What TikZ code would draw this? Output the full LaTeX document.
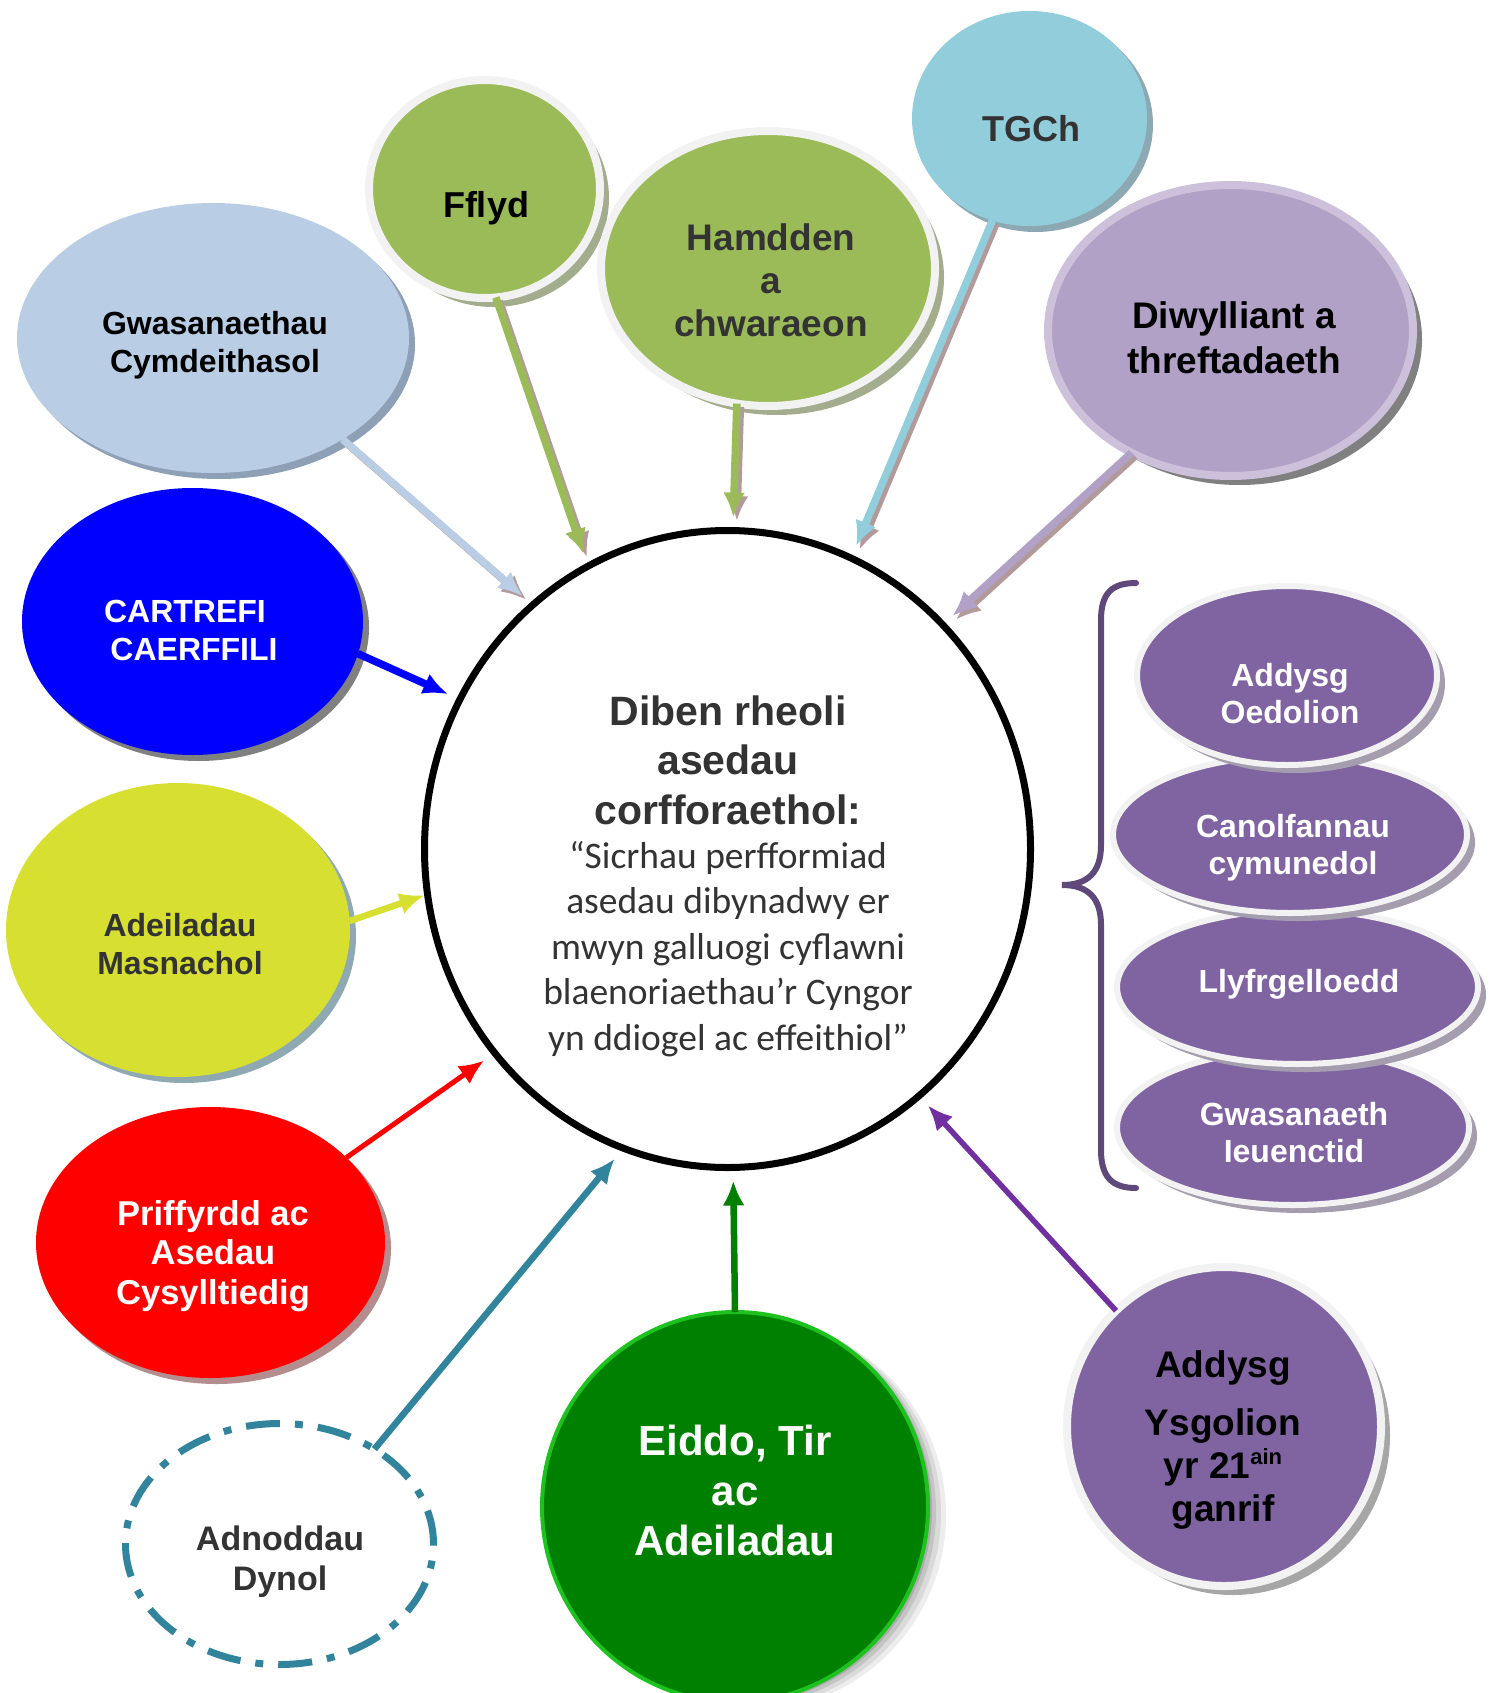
\documentclass[tikz,border=0pt]{standalone}
\usepackage{fontspec}
\setmainfont{Liberation Sans}
\newfontfamily\calib{Carlito}
\usetikzlibrary{shapes.geometric,arrows.meta,shadows}

\definecolor{gwasC}{HTML}{B9CDE5}
\definecolor{gwasS}{HTML}{8EA0B6}
\definecolor{greenC}{HTML}{9BBB59}
\definecolor{greenS}{HTML}{A3AD8E}
\definecolor{ringC}{HTML}{F2F2F2}
\definecolor{tgchC}{HTML}{92CDDC}
\definecolor{tgchS}{HTML}{8CA9B3}
\definecolor{diwC}{HTML}{B2A1C7}
\definecolor{diwR}{HTML}{CCC0DA}
\definecolor{greyS}{HTML}{808080}
\definecolor{blueC}{HTML}{0000FF}
\definecolor{adeC}{HTML}{D7DF31}
\definecolor{adeS}{HTML}{8FA9B2}
\definecolor{redC}{HTML}{FF0000}
\definecolor{redS}{HTML}{B48E8E}
\definecolor{tealC}{HTML}{31849B}
\definecolor{eidC}{HTML}{008000}
\definecolor{eidR}{HTML}{1EC21E}
\definecolor{purC}{HTML}{8064A2}
\definecolor{purS}{HTML}{A39DAD}
\definecolor{arrP}{HTML}{7030A0}
\definecolor{braceC}{HTML}{5F497A}
\definecolor{dgrey}{HTML}{333333}
\definecolor{arrS}{HTML}{B39A9A}

\tikzset{
  bub/.style={ellipse, inner sep=0pt, outer sep=0pt},
  sh/.style 2 args={drop shadow={shadow xshift=#1, shadow yshift=-#1, fill=#2, opacity=1}},
  ringed/.style={draw=ringC, line width=8pt},
  txt/.style={align=center, inner sep=0pt},
  tf/.style 2 args={font=\bfseries\fontsize{#1}{#2}\selectfont},
  ar/.style={-{Latex[length=25pt,width=22pt]}, line width=#1},
  ar/.default=7.5pt,
  ashd/.style={color=arrS, transform canvas={xshift=3.5pt,yshift=-3.5pt}},
}

\begin{document}
\begin{tikzpicture}[x=1pt,y=-1pt]
\useasboundingbox (0,0) rectangle (1490,1693);

% ---------- bubbles ----------
\node[bub, minimum width=392pt, minimum height=270pt, fill=gwasC, sh={6pt}{gwasS}] (gwas) at (213,338) {};
\node[bub, minimum width=231pt, minimum height=218pt, fill=greenC, ringed, sh={9pt}{greenS}] (fflyd) at (484.5,189) {};
\node[bub, minimum width=334pt, minimum height=275pt, fill=greenC, ringed, sh={9pt}{greenS}] (hamd) at (768,268.5) {};
\node[bub, minimum width=365pt, minimum height=291pt, fill=diwC, draw=diwR, line width=8pt, sh={9pt}{greyS}] (diwyl) at (1230.5,330.5) {};
\node[bub, minimum width=235pt, minimum height=215pt, fill=tgchC, sh={6pt}{tgchS}] (tgch) at (1029.5,118.5) {};
\node[bub, minimum width=341pt, minimum height=267pt, fill=blueC, sh={6pt}{greyS}] (cartref) at (192.5,621.5) {};
\node[bub, minimum width=344pt, minimum height=294pt, fill=adeC, sh={6pt}{adeS}] (adeil) at (178,930) {};
\node[bub, minimum width=349pt, minimum height=271pt, fill=redC, sh={6pt}{redS}] (priff) at (210.5,1242.5) {};
\node[bub, minimum width=308pt, minimum height=241pt, draw=tealC, line width=7pt,
      dash pattern=on 34pt off 15pt on 8pt off 15pt] (adn) at (279.5,1544) {};
\node[bub, minimum width=386pt, minimum height=390pt, fill=eidC, draw=eidR, line width=4pt,
      drop shadow={shadow xshift=18pt, shadow yshift=-8pt, fill=black, opacity=.07},
      drop shadow={shadow xshift=13pt, shadow yshift=-6pt, fill=black, opacity=.08},
      drop shadow={shadow xshift=8pt, shadow yshift=-4pt, fill=black, opacity=.1},
      drop shadow={shadow xshift=4pt, shadow yshift=-2pt, fill=black, opacity=.12}] (eiddo) at (735,1507) {};
\node[bub, minimum width=314pt, minimum height=319pt, fill=purC, ringed, sh={9pt}{greyS!70}] (ysg) at (1224,1426.5) {};

% right stack (bottom one first)
\node[bub, minimum width=352pt, minimum height=155pt, fill=purC, draw=ringC, line width=6pt, sh={8pt}{purS}] (gwasi) at (1293,1127.5) {};
\node[bub, minimum width=361pt, minimum height=154pt, fill=purC, draw=ringC, line width=6pt, sh={8pt}{purS}] (llyfr) at (1297.5,987) {};
\node[bub, minimum width=354pt, minimum height=157pt, fill=purC, draw=ringC, line width=6pt, sh={8pt}{purS}] (canol) at (1290,834.5) {};
\node[bub, minimum width=300pt, minimum height=179pt, fill=purC, draw=ringC, line width=6pt, sh={8pt}{purS}] (oed) at (1287,675.5) {};

% brace
\draw[braceC, line width=6pt, line cap=round]
  (1136,583) .. controls (1112,583) and (1101,593) .. (1101,620) -- (1101,845)
  .. controls (1101,872) and (1088,885) .. (1062,885)
  .. controls (1088,885) and (1101,898) .. (1101,925) -- (1101,1150)
  .. controls (1101,1177) and (1112,1188) .. (1136,1188);

% central circle
\node[ellipse, draw=black, line width=7pt, fill=white, minimum width=606pt, minimum height=637pt,
      inner sep=0pt, outer sep=13pt] (c) at (727.5,849) {};

% ---------- texts ----------
\node[txt, tf={32}{38}, text=black] (tgwas) at (215,345) {Gwasanaethau\\Cymdeithasol};
\node[txt, tf={36}{42}, text=black] (tfflyd) at (486,208) {Fflyd};
\node[txt, tf={37}{43}, text=dgrey] (thamd) at (771,280) {Hamdden\\a\\chwaraeon};
\node[txt, tf={36}{42}, text=dgrey] (ttgch) at (1031,129) {TGCh};
\node[txt, tf={37}{45}, text=black] (tdiwyl) at (1234,338) {Diwylliant a\\threftadaeth};
\node[txt, tf={32}{38}, text=white] (tcartref) at (185,630) {CARTREFI\\\hspace*{18pt}CAERFFILI};
\node[txt, tf={32}{38}, text=dgrey] (tadeil) at (180,944) {Adeiladau\\Masnachol};
\node[txt, tf={34.5}{39.5}, text=white] (tpriff) at (213,1256) {Priffyrdd ac\\Asedau\\Cysylltiedig};
\node[txt, tf={34}{40}, text=dgrey] (tadn) at (280,1562) {Adnoddau\\Dynol};
\node[txt, tf={42}{50}, text=white] (teiddo) at (735,1490) {Eiddo, Tir\\ac\\Adeiladau};
\node[txt, tf={37}{43}, text=black] (tysg) at (1223,1440)
  {Addysg\\[15pt]Ysgolion\\yr 21\raisebox{14pt}{\fontsize{22}{22}\selectfont ain}\\ganrif};
\node[txt, tf={32}{37}, text=white] (toed) at (1290,694) {Addysg\\Oedolion};
\node[txt, tf={32}{37}, text=white] (tcanol) at (1293,848) {Canolfannau\\cymunedol};
\node[txt, tf={32}{37}, text=white] (tllyfr) at (1299,984) {Llyfrgelloedd};
\node[txt, tf={32}{37}, text=white] (tgwasi) at (1294,1133) {Gwasanaeth\\Ieuenctid};
\node[txt, tf={41}{49.5}, text=dgrey] (chead) at (728,760) {Diben rheoli\\asedau\\corfforaethol:};
\node[txt, font=\calib\fontsize{37.5}{45.5}\selectfont, text=dgrey] (cquote) at (728,949)
  {“Sicrhau perfformiad\\asedau dibynadwy er\\mwyn galluogi cyflawni\\blaenoriaethau’r Cyngor\\yn ddiogel ac effeithiol”};

% ---------- arrows ----------
\draw[ar, ashd] (gwas.-38.5) -- (c.129.7);
\draw[ar, color=gwasC] (gwas.-38.5) -- (c.129.7);
\draw[ar, ashd] (fflyd.-84.1) -- (c.116);
\draw[ar, color=greenC] (fflyd.-84.1) -- (c.116);
\draw[ar, ashd] (hamd.-103.7) -- (c.89.2);
\draw[ar, color=greenC] (hamd.-103.7) -- (c.89.2);
\draw[ar, ashd] (tgch.-110.6) -- (c.67.9);
\draw[ar, color=tgchC] (tgch.-110.6) -- (c.67.9);
\draw[ar, ashd] (diwyl.-129.9) -- (c.46.5);
\draw[ar, color=diwC] (diwyl.-129.9) -- (c.46.5);
\draw[ar=7.5pt, color=blueC] (cartref.-11.1) -- (c.151.7);
\draw[ar=6.5pt, color=adeC, shorten >=-10pt] (adeil.3.3) -- (c.-171.2);
\draw[ar=5pt, color=redC] (priff.32.5) -- (c.-139.1);
\draw[ar=6.5pt, color=tealC] (adn.45.2) -- (c.-110.8);
\draw[ar=6.5pt, color=eidC] (eiddo.90) -- (c.-89.2);
\draw[ar=5.5pt, color=arrP] (ysg.133.1) -- (c.-52.3);
\end{tikzpicture}
\end{document}
